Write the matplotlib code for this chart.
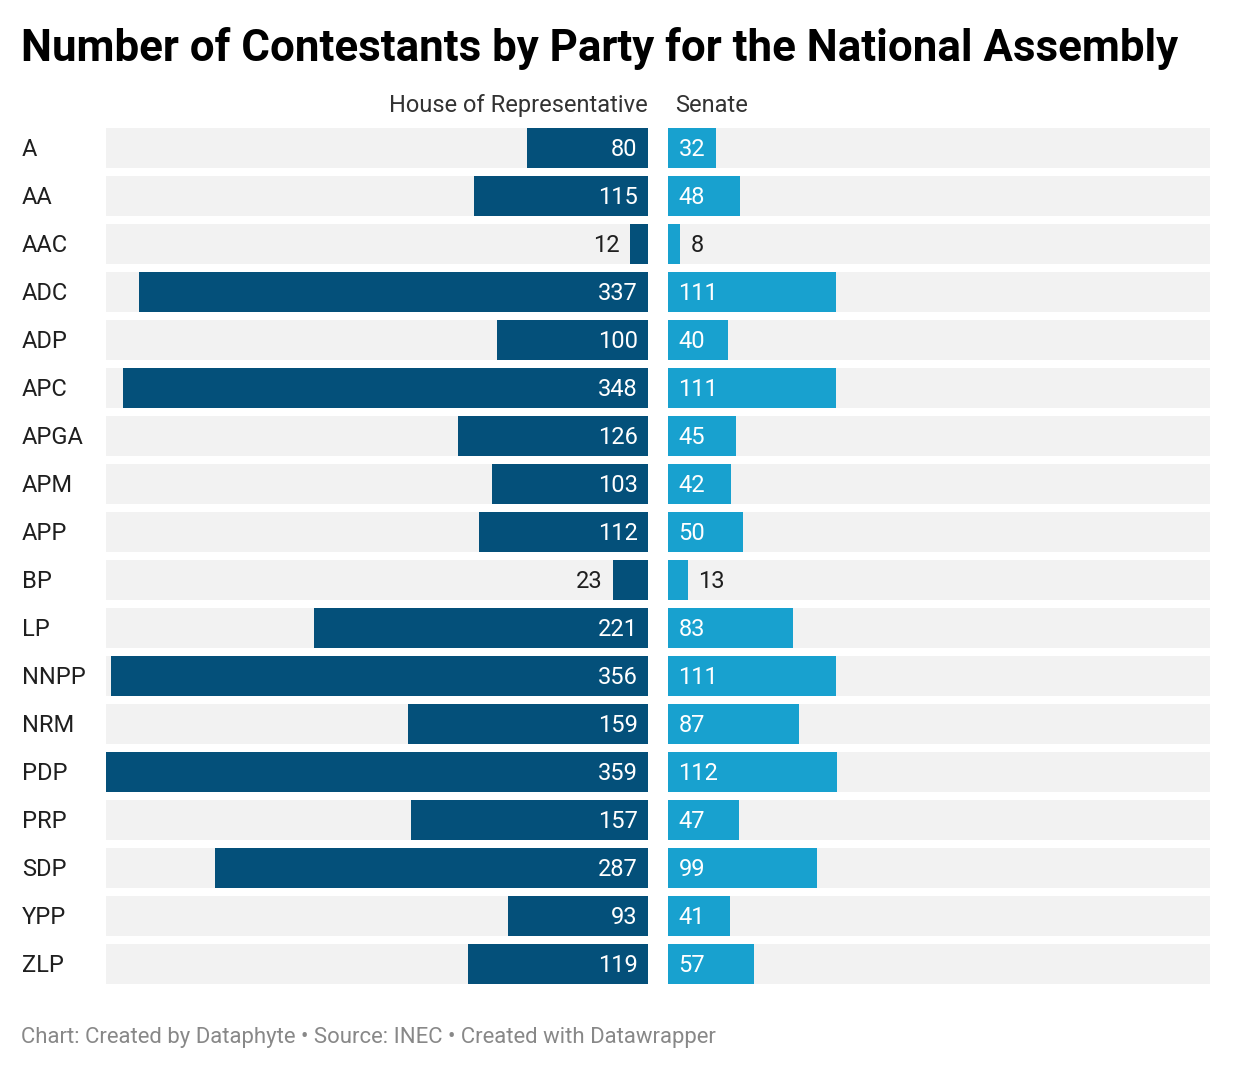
import numpy as np
import matplotlib.pyplot as plt
from matplotlib.transforms import blended_transform_factory

plt.rcParams['font.family'] = ['Roboto', 'DejaVu Sans']

# data
parties = ['A', 'AA', 'AAC', 'ADC', 'ADP', 'APC', 'APGA', 'APM', 'APP', 'BP',
           'LP', 'NNPP', 'NRM', 'PDP', 'PRP', 'SDP', 'YPP', 'ZLP']
house = [80, 115, 12, 337, 100, 348, 126, 103, 112, 23,
         221, 356, 159, 359, 157, 287, 93, 119]
senate = [32, 48, 8, 111, 40, 111, 45, 42, 50, 13,
          83, 111, 87, 112, 47, 99, 41, 57]

W, H = 1240, 1070
c_house = '#04507a'
c_senate = '#18a1cf'
c_bg = '#f2f2f2'
c_text = '#1f1f1f'
vmax = max(house)

fig = plt.figure(figsize=(W / 100, H / 100), dpi=100)

def px_axes(x0, x1, y0, y1):
    return fig.add_axes([x0 / W, 1 - y1 / H, (x1 - x0) / W, (y1 - y0) / H])

ax_h = px_axes(106, 648, 124, 988)
ax_s = px_axes(668, 1210, 124, 988)
y = np.arange(len(parties))

for ax in (ax_h, ax_s):
    ax.barh(y, [vmax] * len(y), height=0.833, color=c_bg)
    ax.set_ylim(len(y) - 0.5, -0.5)
    ax.set_xlim(0, vmax)
    ax.axis('off')
ax_h.invert_xaxis()

ax_h.barh(y, house, height=0.833, color=c_house)
ax_s.barh(y, senate, height=0.833, color=c_senate)

fs = 17
va = 'center_baseline'
dy = 0.8  # small upward nudge, points
for i, (h, s) in enumerate(zip(house, senate)):
    if h > 40:
        ax_h.annotate(str(h), (0, i), xytext=(-7.5, dy), textcoords='offset points',
                      ha='right', va=va, color='white', fontsize=fs)
    else:
        ax_h.annotate(str(h), (h, i), xytext=(-7.5, dy), textcoords='offset points',
                      ha='right', va=va, color=c_text, fontsize=fs)
    if s > 20:
        ax_s.annotate(str(s), (0, i), xytext=(7.5, dy), textcoords='offset points',
                      ha='left', va=va, color='white', fontsize=fs)
    else:
        ax_s.annotate(str(s), (s, i), xytext=(7.5, dy), textcoords='offset points',
                      ha='left', va=va, color=c_text, fontsize=fs)

tr = blended_transform_factory(fig.transFigure, ax_h.transData)
for i, p in enumerate(parties):
    ax_h.annotate(p, (22 / W, i), xycoords=tr, xytext=(0, dy), textcoords='offset points',
                  ha='left', va=va, fontsize=fs, color=c_text)

fig.text(648 / W, 1 - 103 / H, 'House of Representative', ha='right', va=va,
         fontsize=fs, color='#333333')
fig.text(675 / W, 1 - 103 / H, 'Senate', ha='left', va=va,
         fontsize=fs, color='#333333')

fig.text(21 / W, 1 - 44 / H, 'Number of Contestants by Party for the National Assembly',
         ha='left', va=va, fontsize=31.6, fontweight='bold', color='black')

fig.text(21 / W, 1 - 1035 / H,
         'Chart: Created by Dataphyte \u2022 Source: INEC \u2022 Created with Datawrapper',
         ha='left', va=va, fontsize=15.9, color='#888888')

fig.savefig('out.png', dpi=100, facecolor='white')
